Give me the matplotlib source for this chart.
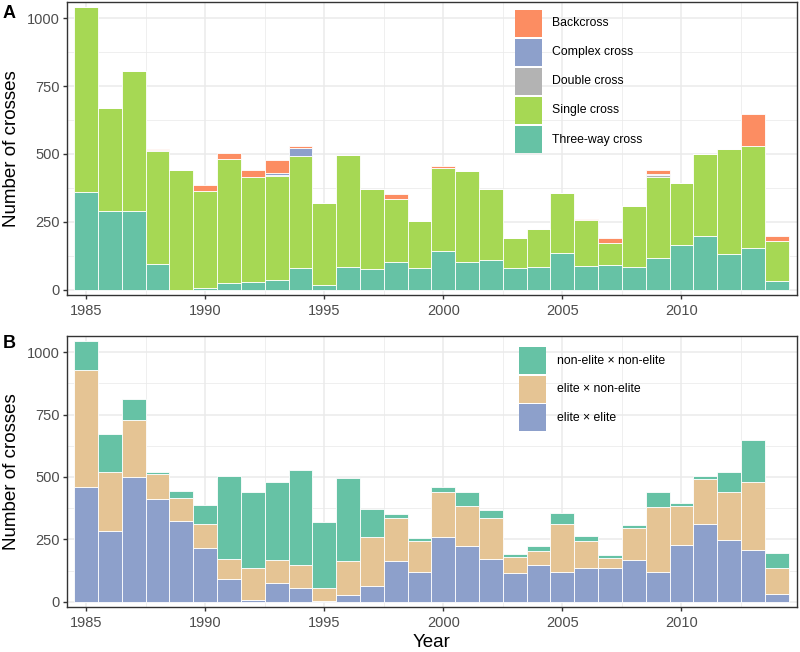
import matplotlib
matplotlib.use('Agg')
import matplotlib.pyplot as plt
import matplotlib.patches as patches
import numpy as np
from matplotlib.ticker import MultipleLocator

plt.rcParams['font.family'] = ['Liberation Sans', 'DejaVu Sans']

years = list(range(1985, 2015))

# Panel A: cross types (counts per year)
three_way = [360, 290, 288, 94, 0, 5, 23, 28, 35, 79, 18, 85, 75, 102, 80,
             143, 100, 108, 81, 83, 133, 86, 92, 83, 118, 164, 196, 131, 154, 32]
single = [680, 378, 516, 416, 439, 357, 457, 386, 383, 412, 302, 411, 297, 233, 174,
          306, 338, 261, 110, 140, 222, 169, 81, 224, 298, 229, 305, 388, 375, 147]
double = [0, 0, 0, 4, 0, 0, 0, 0, 3, 0, 0, 0, 0, 0, 0,
          0, 0, 0, 0, 0, 0, 0, 0, 0, 7, 0, 0, 0, 0, 0]
complex_ = [0, 0, 0, 0, 0, 0, 0, 0, 8, 31, 0, 0, 0, 0, 0,
            0, 0, 0, 0, 0, 0, 0, 0, 0, 3, 0, 0, 0, 0, 0]
backcross = [0, 0, 0, 5, 0, 25, 22, 25, 49, 6, 0, 0, 0, 18, 0,
             8, 0, 0, 0, 0, 0, 6, 16, 0, 14, 0, 0, 0, 117, 18]

# Panel B: elite status of parents
elite_elite = [461, 282, 499, 410, 324, 217, 90, 9, 74, 57, 5, 29, 64, 162, 120,
               261, 225, 170, 114, 146, 118, 135, 135, 167, 118, 227, 310, 249, 209, 33]
elite_non = [468, 237, 228, 101, 90, 93, 82, 125, 92, 90, 52, 133, 194, 175, 123,
             178, 157, 164, 66, 57, 195, 107, 41, 127, 262, 157, 181, 192, 270, 103]
non_non = [115, 155, 85, 8, 29, 76, 331, 306, 313, 380, 263, 333, 114, 15, 14,
           20, 57, 35, 10, 20, 44, 20, 11, 12, 60, 12, 14, 80, 168, 59]

COLORS_A = {
    'Three-way cross': '#66C2A5',
    'Single cross': '#A6D854',
    'Double cross': '#B3B3B3',
    'Complex cross': '#8DA0CB',
    'Backcross': '#FC8D62',
}
COLORS_B = {
    'elite × elite': '#8DA0CB',
    'elite × non-elite': '#E5C494',
    'non-elite × non-elite': '#66C2A5',
}

W, H = 800, 652
fig = plt.figure(figsize=(W / 100, H / 100), dpi=100, facecolor='white')


def px_axes(left, top, right, bottom):
    return fig.add_axes([left / W, 1 - bottom / H, (right - left) / W, (bottom - top) / H])


def style_axes(ax, ylim):
    ax.set_xlim(1984.2, 2014.85)
    ax.set_ylim(*ylim)
    ax.xaxis.set_major_locator(MultipleLocator(5))
    ax.xaxis.set_minor_locator(MultipleLocator(2.5))
    ax.yaxis.set_major_locator(MultipleLocator(250))
    ax.yaxis.set_minor_locator(MultipleLocator(125))
    ax.grid(which='major', color='#EBEBEB', linewidth=1.1, zorder=0)
    ax.grid(which='minor', color='#EBEBEB', linewidth=0.55, zorder=0)
    ax.set_axisbelow(True)
    for s in ax.spines.values():
        s.set_color('#333333')
        s.set_linewidth(1.0)
    ax.tick_params(which='major', length=3, width=1, color='#333333',
                   labelsize=10.5, labelcolor='#4D4D4D', pad=2)
    ax.tick_params(axis='x', which='major', pad=3.5)
    ax.tick_params(which='minor', length=0)
    ax.set_ylabel('Number of crosses', fontsize=13.5, color='black', labelpad=5)


def stacked(ax, series, colors):
    bottom = np.zeros(len(years))
    for name, vals in series:
        vals = np.array(vals, dtype=float)
        ax.bar(years, vals, width=1.0, bottom=bottom, color=colors[name],
               edgecolor='white', linewidth=0.6, zorder=2)
        bottom += vals


def draw_legend(names, colors, box_left, first_top, pitch, text_x):
    # legend keys placed in figure pixel space
    for i, name in enumerate(names):
        top = first_top + i * pitch
        rect = patches.Rectangle((box_left / W, 1 - (top + 27) / H), 27 / W, 27 / H,
                                 facecolor=colors[name], edgecolor='none',
                                 transform=fig.transFigure, zorder=5)
        fig.add_artist(rect)
        fig.text(text_x / W, 1 - (top + 13.5) / H, name, fontsize=8.8,
                 ha='left', va='center', color='black')


# ---- Panel A
axA = px_axes(67, 2, 797, 295)
style_axes(axA, (-20, 1060))
stacked(axA, [('Three-way cross', three_way), ('Single cross', single),
              ('Double cross', double), ('Complex cross', complex_),
              ('Backcross', backcross)], COLORS_A)
draw_legend(['Backcross', 'Complex cross', 'Double cross', 'Single cross',
             'Three-way cross'], COLORS_A, 515, 10, 29, 552)

# ---- Panel B
axB = px_axes(67, 336, 797, 607)
style_axes(axB, (-21, 1065))
stacked(axB, [('elite × elite', elite_elite), ('elite × non-elite', elite_non),
              ('non-elite × non-elite', non_non)], COLORS_B)
draw_legend(['non-elite × non-elite', 'elite × non-elite', 'elite × elite'],
            COLORS_B, 519, 347, 28.7, 557)
axB.set_xlabel('Year', fontsize=13.5, color='black', labelpad=3)

fig.text(3 / W, 1 - 13 / H, 'A', fontsize=13, fontweight='bold', va='center', ha='left')
fig.text(3 / W, 1 - 344 / H, 'B', fontsize=13, fontweight='bold', va='center', ha='left')

fig.savefig('out.png', dpi=100, facecolor='white')
